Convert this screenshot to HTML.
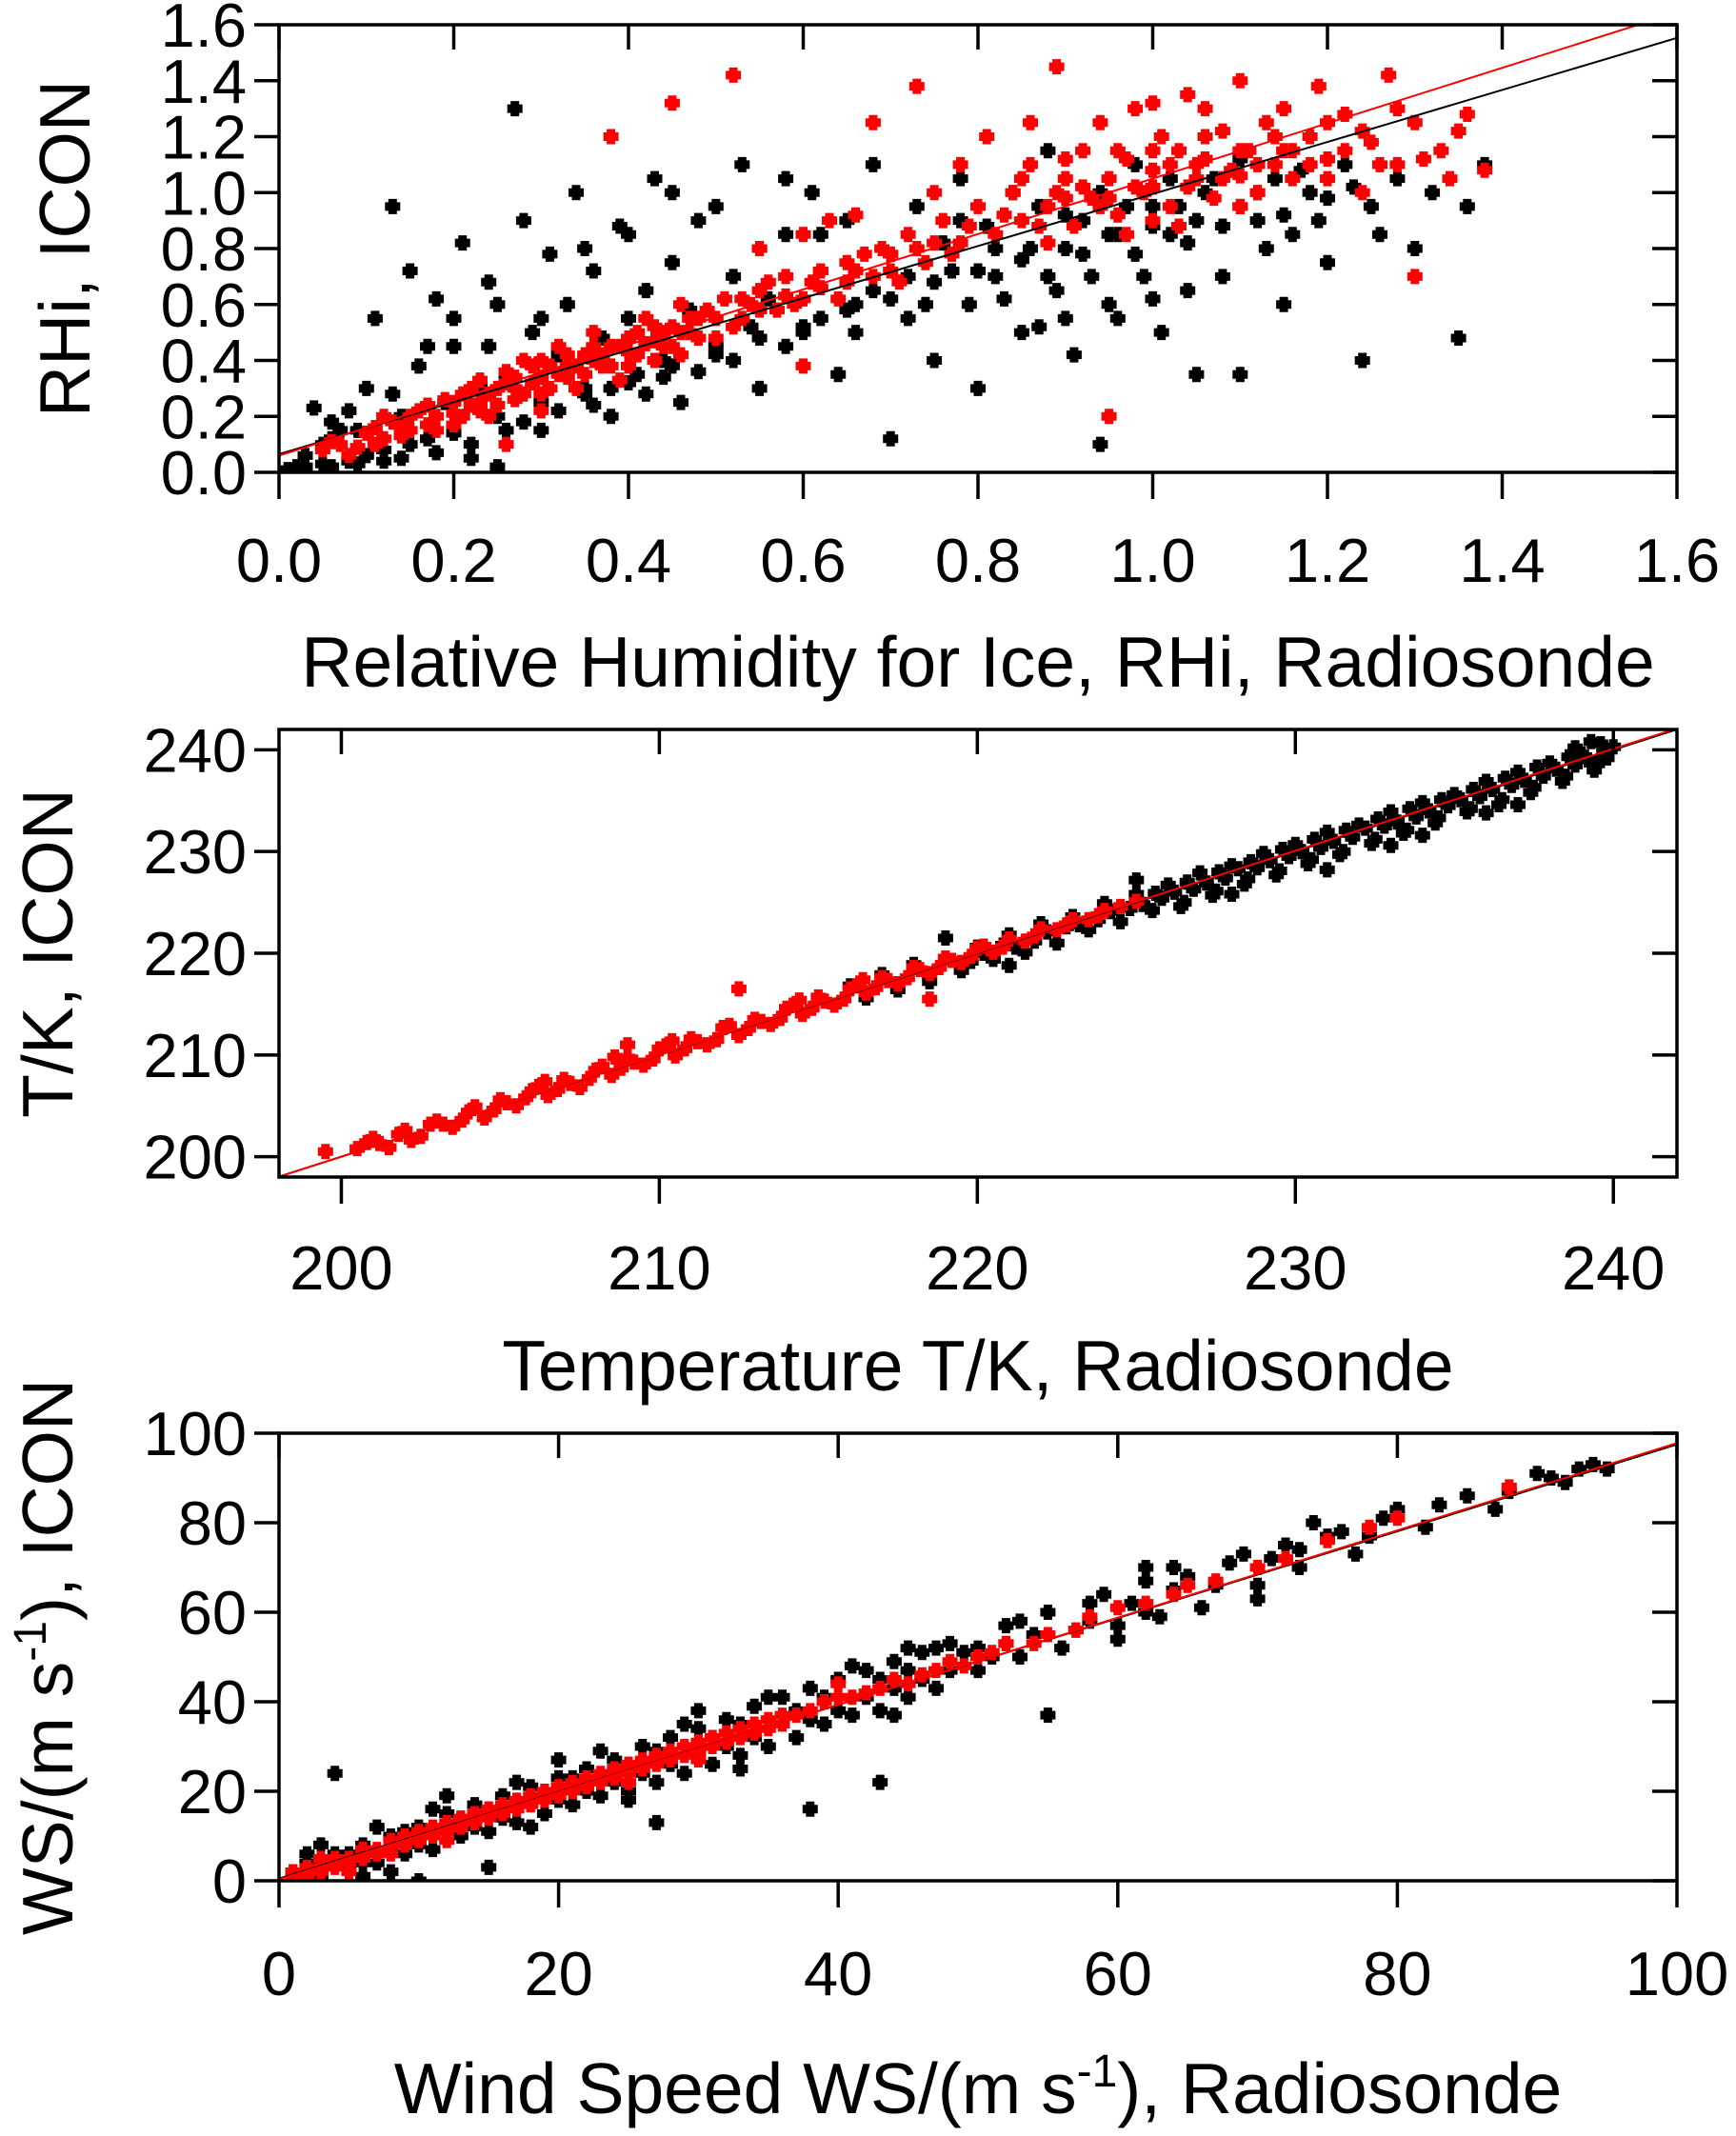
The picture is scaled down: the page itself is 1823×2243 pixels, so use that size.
<!DOCTYPE html>
<html><head><meta charset="utf-8"><style>
html,body{margin:0;padding:0;background:#fff}
svg{display:block;font-family:"Liberation Sans",Arial,sans-serif}
</style></head><body>
<svg id="fig" width="1823" height="2243" viewBox="0 0 1823 2243" xmlns="http://www.w3.org/2000/svg"></svg>
<script>
// ---- data ----
const rhiTicks = [0.0,0.2,0.4,0.6,0.8,1.0,1.2,1.4,1.6];
const rhiTickLabels = ["0.0","0.2","0.4","0.6","0.8","1.0","1.2","1.4","1.6"];
const rhiBlack = [[0.02,0.02],[0.03,0.06],[0.05,0.1],[0.06,0.18],[0.04,0.23],[0.08,0.04],[0.09,0.15],[0.1,0.3],[0.11,0.55],[0.12,0.08],[0.13,0.95],[0.14,0.2],[0.15,0.72],[0.16,0.38],[0.17,0.12],[0.18,0.62],[0.19,0.25],[0.2,0.45],[0.21,0.82],[0.22,0.05],[0.23,0.3],[0.24,0.68],[0.25,0.02],[0.26,0.35],[0.27,1.3],[0.28,0.9],[0.29,0.5],[0.3,0.15],[0.31,0.78],[0.32,0.42],[0.33,0.6],[0.34,1.0],[0.35,0.3],[0.36,0.72],[0.37,0.48],[0.38,0.2],[0.39,0.88],[0.4,0.55],[0.41,0.35],[0.42,0.65],[0.43,1.05],[0.44,0.4],[0.45,0.75],[0.46,0.25],[0.47,0.58],[0.48,0.9],[0.5,0.45],[0.52,0.7],[0.53,1.1],[0.55,0.3],[0.56,0.62],[0.58,0.85],[0.6,0.5],[0.61,1.0],[0.62,0.72],[0.64,0.35],[0.65,0.9],[0.66,0.6],[0.68,1.1],[0.7,0.12],[0.7,0.78],[0.72,0.55],[0.73,0.95],[0.75,0.4],[0.76,0.82],[0.78,1.05],[0.79,0.6],[0.8,0.3],[0.81,0.88],[0.82,0.7],[0.84,1.0],[0.85,0.5],[0.86,0.8],[0.88,1.15],[0.89,0.65],[0.9,0.92],[0.91,0.42],[0.92,0.78],[0.94,0.1],[0.94,1.0],[0.95,0.6],[0.96,0.85],[0.98,1.1],[0.99,0.7],[1.0,0.95],[1.01,0.5],[1.02,1.05],[1.04,0.82],[1.05,0.35],[1.06,1.0],[1.08,0.7],[1.1,1.12],[1.1,0.35],[1.12,0.9],[1.14,1.05],[1.15,0.6],[1.16,0.85],[1.18,1.0],[1.2,0.75],[1.22,1.1],[1.24,0.4],[1.25,0.95],[1.28,1.05],[1.3,0.8],[1.32,1.0],[1.35,0.48],[1.36,0.95],[1.38,1.1],[0.05,0.03],[0.1,0.06],[0.15,0.1],[0.2,0.14],[0.25,0.2],[0.3,0.25],[0.35,0.28],[0.4,0.32],[0.45,0.38],[0.5,0.42],[0.55,0.48],[0.6,0.52],[0.65,0.58],[0.7,0.62],[0.75,0.68],[0.8,0.72],[0.85,0.76],[0.9,0.8],[0.95,0.85],[1.0,0.88],[1.05,0.9],[1.1,0.95],[1.15,0.92],[1.2,0.98],
[0.01,0.01],[0.03,0.02],[0.06,0.02],[0.09,0.03],[0.12,0.04],[0.14,0.05],[0.18,0.07],[0.22,0.1],[0.26,0.15],[0.28,0.18],[0.32,0.22],[0.36,0.24],[0.38,0.3],[0.42,0.28],[0.44,0.34],[0.48,0.36],[0.52,0.4],[0.54,0.52],[0.58,0.45],[0.62,0.55],[0.66,0.5],[0.68,0.65],[0.72,0.7],[0.74,0.6],[0.77,0.72],[0.78,0.9],[0.82,0.8],[0.83,0.62],[0.87,0.95],[0.88,0.7],[0.92,0.9],[0.93,0.7],[0.97,0.95],[0.98,0.78],[1.02,0.85],[1.03,0.95],[1.07,1.05],[1.08,0.88],[1.12,1.0],[1.13,0.8],[1.17,1.08],[1.19,0.9],[1.23,1.02],[1.26,0.85],[0.55,0.8],[0.5,0.95],[0.62,0.85],[0.45,1.0],[0.58,1.05],[0.35,0.8],[0.4,0.85],[0.25,0.6],[0.2,0.55],[0.17,0.45],[0.07,0.15],[0.08,0.22],[0.06,0.12],[0.13,0.28],[0.24,0.45],[0.3,0.55],[0.87,0.52],[0.96,0.55],[1.0,0.62],[1.04,0.65],[0.9,0.55]];
const rhiRed = [[0.05,0.08],[0.07,0.1],[0.08,0.06],[0.1,0.14],[0.12,0.12],[0.13,0.18],[0.15,0.15],[0.16,0.22],[0.18,0.2],[0.19,0.26],[0.2,0.17],[0.21,0.28],[0.22,0.24],[0.23,0.33],[0.24,0.2],[0.25,0.3],[0.26,0.36],[0.27,0.26],[0.28,0.4],[0.29,0.32],[0.3,0.28],[0.31,0.38],[0.32,0.45],[0.33,0.34],[0.34,0.3],[0.35,0.42],[0.36,0.5],[0.37,0.38],[0.38,0.45],[0.39,0.33],[0.4,0.48],[0.41,0.42],[0.42,0.55],[0.43,0.4],[0.44,0.5],[0.45,0.45],[0.46,0.6],[0.47,0.5],[0.48,0.55],[0.5,0.48],[0.51,0.62],[0.52,1.42],[0.53,0.55],[0.55,0.65],[0.57,0.58],[0.58,0.7],[0.6,0.62],[0.62,0.72],[0.63,0.9],[0.65,0.68],[0.67,0.78],[0.68,1.25],[0.7,0.72],[0.72,0.85],[0.73,1.38],[0.74,0.75],[0.76,0.9],[0.78,0.82],[0.8,0.95],[0.81,1.2],[0.82,0.85],[0.84,1.0],[0.85,0.9],[0.86,1.1],[0.88,0.95],[0.89,1.45],[0.9,1.05],[0.91,0.88],[0.92,1.15],[0.93,0.98],[0.94,1.25],[0.95,1.05],[0.96,0.92],[0.97,1.12],[0.98,1.3],[0.99,1.0],[1.0,1.08],[1.01,1.2],[1.02,0.95],[1.03,1.15],[1.04,1.35],[1.05,1.05],[1.06,1.12],[1.07,0.98],[1.08,1.22],[1.09,1.08],[1.1,1.4],[1.11,1.15],[1.12,1.0],[1.13,1.25],[1.14,1.1],[1.15,1.3],[1.16,1.05],[1.18,1.2],[1.2,1.12],[1.22,1.28],[1.24,1.0],[1.25,1.18],[1.27,1.42],[1.28,1.1],[1.3,0.7],[1.3,1.25],[1.33,1.15],[1.35,1.22],[1.38,1.08],[0.95,0.2],[0.3,0.22],[0.26,0.1],[0.6,0.38],[0.45,1.32],[0.38,1.2],[0.11,0.1],[0.14,0.13],[0.17,0.17],[0.2,0.21],[0.23,0.25],[0.27,0.3],[0.3,0.34],[0.33,0.38],[0.36,0.4],[0.4,0.43],[0.43,0.47],[0.46,0.5],[0.5,0.55],[0.54,0.6],[0.58,0.63],[0.62,0.66],[0.66,0.72],[0.7,0.78],[0.75,0.82],[0.9,0.98],[0.95,0.98],[1.0,1.02],[1.05,1.1],[1.1,1.06],[1.15,1.15],[1.2,1.05],
[0.06,0.11],[0.09,0.09],[0.11,0.16],[0.12,0.2],[0.14,0.16],[0.15,0.2],[0.17,0.24],[0.18,0.15],[0.2,0.25],[0.21,0.2],[0.22,0.3],[0.23,0.22],[0.24,0.28],[0.25,0.24],[0.26,0.32],[0.27,0.34],[0.28,0.28],[0.29,0.38],[0.3,0.4],[0.31,0.3],[0.32,0.35],[0.33,0.42],[0.34,0.38],[0.35,0.35],[0.36,0.45],[0.37,0.42],[0.38,0.38],[0.39,0.45],[0.4,0.38],[0.41,0.5],[0.42,0.46],[0.43,0.52],[0.44,0.45],[0.45,0.52],[0.46,0.42],[0.47,0.55],[0.48,0.48],[0.49,0.58],[0.52,0.52],[0.53,0.62],[0.55,0.58],[0.56,0.68],[0.59,0.6],[0.61,0.68],[0.64,0.62],[0.65,0.75],[0.68,0.7],[0.69,0.8],[0.71,0.68],[0.73,0.8],[0.77,0.78],[0.79,0.88],[0.83,0.92],[0.85,1.05],[0.87,0.88],[0.89,1.0],[0.9,1.12],[0.92,1.02],[0.94,0.95],[0.96,1.15],[0.98,1.02],[1.0,1.15],[1.02,1.1],[1.04,1.02],[1.06,1.2],[1.08,1.05],[1.1,1.15],[1.12,1.1],[1.14,1.2],[1.16,1.15],[1.18,1.1],[1.2,1.25],[1.22,1.15],[1.24,1.22],[1.26,1.1],[1.28,1.3],[1.31,1.12],[1.34,1.05],[1.36,1.28],[1.0,0.9],[0.97,0.85],[1.03,0.88],[1.1,0.95],[0.88,0.82],[0.86,1.25],[1.0,1.32],[1.19,1.38],[1.06,1.3],[0.78,1.1],[0.75,1.0],[0.66,0.92],[0.55,0.8],[0.6,0.85]];
const rhiFitBlack = [0.065, 0.93];
const rhiFitRed = [0.06, 0.99];

const tTicks = [200,210,220,230,240];
const tTickLabels = ["200","210","220","230","240"];
const tBlack = [[216,216.8],[216.5,215.6],[217,217.9],[217.5,216.4],[218,218.9],[218.5,217.2],[219,219.5],[219.5,218.3],[220,220.6],[220.5,219.4],[221,221.8],[221.5,220.1],[222,222.9],[222.5,221.0],[223,223.6],[223.5,222.3],[224,224.9],[224.5,223.1],[225,225.8],[225.5,224.2],[226,226.7],[226.5,225.0],[227,227.9],[227.5,226.1],[228,228.6],[228.5,227.3],[229,229.8],[229.5,228.1],[230,230.7],[230.5,229.2],[231,231.9],[231.5,230.0],[232,232.6],[232.5,231.2],[233,233.9],[233.5,232.1],[234,234.8],[234.5,233.3],[235,235.6],[235.5,234.2],[236,236.9],[236.5,235.1],[237,237.8],[237.5,236.3],[238,238.7],[238.5,237.4],[239,239.6],[239.5,238.6],[240,240.3],[239.8,239.2],[220.2,220],[222.2,222.1],[224.2,224.1],[226.2,226],[228.2,228.3],[230.2,230],[232.2,232.3],[234.2,234],[236.2,236.1],[238.2,238.1],[225,227.2],[231,228.2],[234,231.6],[219,221.5],[221,218.8],[221.2,220.6],[223.2,222.8],[225.2,224.8],[227.2,226.9],[229.2,229.1],[231.2,231.0],[233.2,232.9],[235.2,235.1],[237.2,237.0],[239.2,239.0],[239.6,240.6],[238.8,240.2],
[219.8,219.2],[220.8,220.8],[221.8,221.2],[222.8,222.6],[223.8,223.3],[224.8,224.4],[225.8,225.4],[226.8,226.3],[227.8,227.4],[228.8,228.4],[229.8,229.5],[230.8,230.4],[231.8,231.4],[232.8,232.5],[233.8,233.4],[234.8,234.5],[235.8,235.4],[236.8,236.5],[237.8,237.4],[238.8,238.5],[239.7,239.7],[225.6,225.9],[226.6,227.0],[227.6,228.0],[228.6,229.0],[229.6,230.2],[230.6,231.2],[231.6,232.1],[232.6,233.2],[233.6,234.2],[234.6,235.1],[235.6,236.1],[236.6,237.2],[237.6,238.3],[238.6,239.3],[239.3,240.8],[226.4,224.6],[227.4,225.7],[228.4,226.8],[229.4,227.7],[230.4,228.8],[231.4,229.7],[232.4,230.8],[233.4,231.8],[234.4,232.8],[235.4,233.9],[236.4,234.6],[237.4,235.8],[238.4,236.9],[239.4,238.0],[237,234.6],[233,230.6],[228,225.8],[236,233.8]];
const tRed = [[199.5,200.5],[200.5,200.8],[201,201.8],[201.5,200.9],[202,202.6],[202.5,202.0],[203,203.5],[203.5,202.9],[204,204.4],[204.5,203.8],[205,205.6],[205.5,205.0],[206,206.5],[206.5,206.0],[207,207.6],[207.5,206.8],[208,208.5],[208.5,208.0],[209,209.7],[209.5,209.0],[210,210.6],[210.5,209.9],[211,211.6],[211.5,211.0],[212,212.7],[212.5,211.9],[213,213.5],[213.5,213.0],[214,214.6],[214.5,214.0],[215,215.7],[215.5,214.9],[216,216.5],[216.5,216.1],[217,217.6],[217.5,217.0],[218,218.6],[218.5,218.0],[219,219.5],[219.5,219.1],[220,220.5],[220.5,220.1],[221,221.4],[221.5,221.2],[222,222.4],[222.5,222.3],[223,223.3],[223.5,223.3],[224,224.2],[225,225.1],[212.5,216.5],[218.5,215.5],[209,211.0],[201.2,201.3],[203.2,203.2],[205.2,205.3],[207.2,207.2],[209.2,209.3],[211.2,211.3],[213.2,213.3],[215.2,215.3],[217.2,217.3],[219.2,219.3],
[200.8,201.4],[201.8,202.2],[202.2,201.6],[202.8,203.2],[203.8,203.6],[204.2,204.9],[204.8,204.6],[205.8,205.8],[206.2,206.9],[206.8,206.6],[207.8,207.7],[208.2,208.9],[208.8,208.7],[209.8,209.6],[210.2,210.9],[210.8,210.6],[211.8,211.5],[212.2,212.9],[212.8,212.6],[213.8,213.6],[214.2,214.9],[214.8,214.6],[215.8,215.5],[216.2,216.8],[216.8,216.6],[217.8,217.6],[218.2,218.4],[218.8,218.6],[219.8,219.7],[220.2,220.7],[220.8,220.6],[221.8,221.7],[222.8,222.8],[223.8,223.7],[224.5,224.6],[208.6,209.8],[210.4,211.4],[214.4,215.4],[216.4,217.4],[206.4,207.4]];
const tFitBlack = [0, 1.0];
const tFitRed = [-0.5, 1.0025];

const wsTicks = [0,20,40,60,80,100];
const wsTickLabels = ["0","20","40","60","80","100"];
const wsBlack = [[1,2],[2,4],[3,1],[4,6],[5,3],[6,8],[7,4],[8,10],[9,6],[10,12],[11,7],[12,15],[13,10],[14,17],[15,11],[16,19],[17,13],[18,21],[19,15],[20,23],[21,17],[22,25],[23,19],[24,27],[25,20],[26,30],[27,22],[28,32],[29,24],[30,34],[31,26],[32,36],[33,28],[34,39],[35,30],[36,41],[37,32],[38,43],[39,35],[40,45],[41,37],[42,47],[43,38],[44,49],[45,41],[46,51],[47,43],[48,53],[50,52],[50,47],[52,57],[53,50],[55,60],[56,52],[58,62],[60,57],[62,67],[63,59],[65,68],[66,61],[68,71],[70,66],[72,75],[73,70],[75,77],[77,73],[80,83],[82,79],[85,86],[87,83],[90,91],[92,89],[95,92],[93,92],[4,24],[10,0],[15,3],[43,22],[27,13],[38,16],[55,37],[3,8],[7,12],[11,16],[17,22],[23,29],[29,35],[35,41],[41,48],[47,52],[53,58],[59,64],[64,70],[69,73],[74,80],[79,81],
[2,1],[3,4],[5,6],[6,4],[8,7],[9,11],[10,8],[12,11],[13,14],[14,12],[15,16],[16,14],[18,17],[19,20],[20,18],[21,23],[22,20],[24,22],[25,26],[26,24],[27,29],[28,26],[30,28],[31,32],[32,30],[33,35],[34,32],[36,35],[37,38],[38,36],[39,41],[40,38],[42,41],[43,45],[44,43],[45,47],[46,45],[48,47],[49,51],[51,50],[52,53],[54,55],[57,56],[58,58],[61,62],[62,60],[64,65],[67,66],[71,72],[73,74],[76,78],[78,77],[83,84],[88,87],[91,90],[94,93],[12,19],[20,27],[30,38],[45,52],[62,70],[18,12],[25,18],[33,25],[44,37],[60,54],[70,63],[2,6],[6,1],[8,2]];
const wsRed = [[1,1],[2,3],[3,2],[4,5],[5,4],[6,6],[7,6],[8,9],[9,8],[10,11],[11,10],[12,13],[13,12],[14,15],[15,14],[16,17],[17,16],[18,19],[19,18],[20,21],[21,20],[22,23],[23,22],[24,25],[25,24],[26,27],[27,26],[28,29],[29,28],[30,31],[31,30],[32,33],[33,32],[34,35],[35,34],[36,37],[38,38],[40,41],[42,42],[44,45],[46,46],[48,49],[50,50],[52,53],[55,55],[58,59],[60,61],[62,62],[65,66],[70,70],[75,76],[80,81],[88,88],[3,5],[5,2],[8,6],[12,9],[2,1],[4,3],[6,5],[8,8],[10,9],[12,12],[14,13],[16,15],[18,18],[20,19],[22,21],[24,23],[26,25],[28,27],
[1,2],[2,2],[3,3],[4,4],[5,5],[6,7],[7,7],[8,8],[9,9],[9,10],[10,10],[11,11],[11,12],[12,11],[13,13],[13,14],[14,14],[15,15],[15,16],[16,16],[17,17],[17,18],[18,17],[19,19],[19,20],[20,20],[21,21],[21,22],[22,22],[23,23],[23,24],[24,24],[25,25],[25,26],[26,26],[27,27],[27,28],[28,28],[29,30],[30,29],[30,30],[31,32],[32,31],[33,34],[34,33],[35,36],[36,35],[37,37],[39,40],[41,41],[43,43],[45,44],[47,47],[49,48],[51,51],[54,53],[57,56],[64,64],[67,67],[72,72],[78,79],[40,44],[30,27],[25,22]];
const wsFitBlack = [0.5, 0.97];
const wsFitRed = [0.3, 0.975];

// ---- drawing ----
const NS = "http://www.w3.org/2000/svg";
const svg = document.getElementById("fig");
function mk(tag, attrs, parent){ const e=document.createElementNS(NS,tag); for(const k in attrs) e.setAttribute(k,attrs[k]); (parent||svg).appendChild(e); return e; }

const L=293, R=1761;
function panel(id, top, bottom, xmin, xmax, ymin, ymax, ticks, labels, xTicksList, xLabels, black, red, fitB, fitR, xLabY, titleY, xTitle, yTitleX, yTitleHtml){
  const g = mk("g",{});
  
  
  const sx = v => L + (v-xmin)/(xmax-xmin)*(R-L);
  const sy = v => bottom - (v-ymin)/(ymax-ymin)*(bottom-top);
  const clip = mk("clipPath",{id:id+"clip"},g);
  mk("rect",{x:L,y:top,width:R-L,height:bottom-top},clip);
  const pts = mk("g",{"clip-path":"url(#"+id+"clip)"},g);
  function series(arr,color,name){
    const sg = mk("g",{},pts);
    
    
    let d="";
    for(const p of arr){ const x=sx(p[0]), y=sy(p[1]); d+=`M${(x-8).toFixed(1)} ${y.toFixed(1)}h16M${x.toFixed(1)} ${(y-8).toFixed(1)}v16`; }
    mk("path",{d:d,stroke:color,"stroke-width":9,fill:"none"},sg);
  }
  series(black,"#000",id+"-black-points");
  series(red,"#ff0000",id+"-red-points");
  const lb = mk("line",{x1:sx(xmin),y1:sy(fitB[0]+fitB[1]*xmin),x2:sx(xmax),y2:sy(fitB[0]+fitB[1]*xmax),stroke:"#000","stroke-width":2},pts);
  
  
  const lr = mk("line",{x1:sx(xmin),y1:sy(fitR[0]+fitR[1]*xmin),x2:sx(xmax),y2:sy(fitR[0]+fitR[1]*xmax),stroke:"#ff0000","stroke-width":2},pts);
  
  
  const box = mk("rect",{x:L,y:top,width:R-L,height:bottom-top,fill:"none",stroke:"#000","stroke-width":3.5},g);
  
  
  ticks.forEach((v,i)=>{
    const y=sy(v);
    mk("line",{x1:L-26,y1:y,x2:L,y2:y,stroke:"#000","stroke-width":3.5},g);
    mk("line",{x1:R-26,y1:y,x2:R,y2:y,stroke:"#000","stroke-width":3.5},g);
    const t=mk("text",{x:L-34,y:y+23,"text-anchor":"end","font-size":65},g);
    t.textContent=labels[i];
    
    
  });
  xTicksList.forEach((v,i)=>{
    const x=sx(v);
    mk("line",{x1:x,y1:bottom,x2:x,y2:bottom+28,stroke:"#000","stroke-width":3.5},g);
    mk("line",{x1:x,y1:top,x2:x,y2:top+26,stroke:"#000","stroke-width":3.5},g);
    const t=mk("text",{x:x,y:xLabY+23,"text-anchor":"middle","font-size":65},g);
    t.textContent=xLabels[i];
    
    
  });
  const xt=mk("text",{x:(L+R)/2,y:titleY+26,"text-anchor":"middle","font-size":75},g);
  xt.innerHTML=xTitle;
  
  
  const cy=(top+bottom)/2;
  const yt=mk("text",{x:yTitleX,y:cy,"text-anchor":"middle","font-size":75,transform:`rotate(-90 ${yTitleX} ${cy})`},g);
  yt.innerHTML=yTitleHtml;
  
  
}
panel("rhi",26,496,0,1.6,0,1.6,rhiTicks,rhiTickLabels,rhiTicks,rhiTickLabels,rhiBlack,rhiRed,rhiFitBlack,rhiFitRed,588,695,"Relative Humidity for Ice, RHi, Radiosonde",94,"RHi, ICON");
panel("temp",766,1236,198.04,242.0,198,242,tTicks,tTickLabels,tTicks,tTickLabels,tBlack,tRed,tFitBlack,tFitRed,1331,1434,"Temperature T/K, Radiosonde",76,"T/K, ICON");
panel("wind",1505,1975,0,100,0,100,wsTicks,wsTickLabels,wsTicks,wsTickLabels,wsBlack,wsRed,wsFitBlack,wsFitRed,2072,2193,'Wind Speed WS/(m s<tspan dy="-28" font-size="48">-1</tspan><tspan dy="28">), Radiosonde</tspan>',76,'WS/(m s<tspan dy="-28" font-size="48">-1</tspan><tspan dy="28">), ICON</tspan>');
</script>
</body></html>
